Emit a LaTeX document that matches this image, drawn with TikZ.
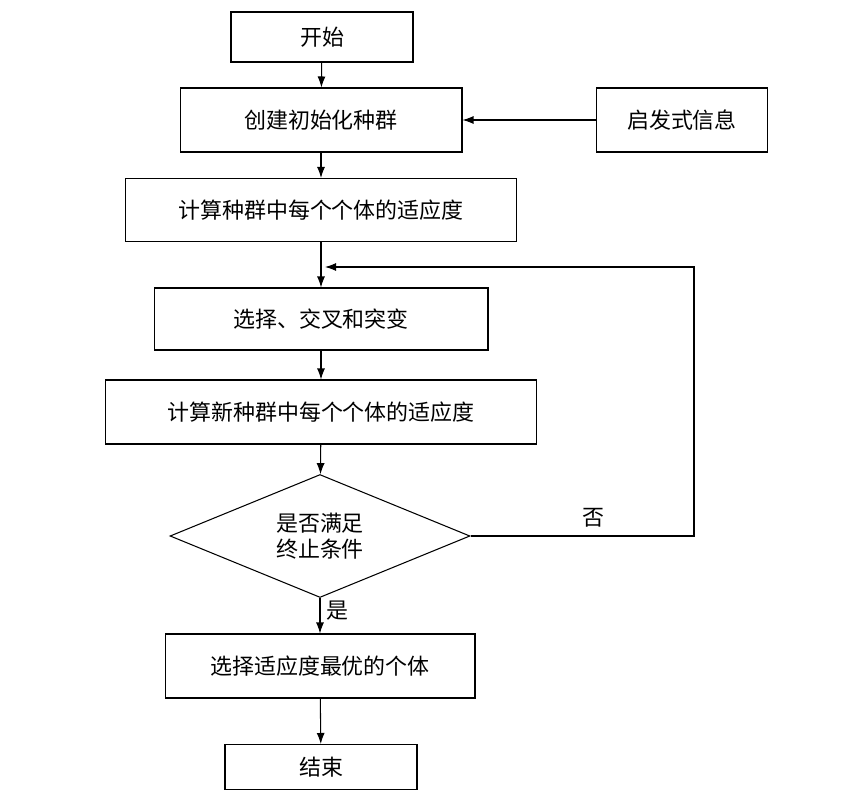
\documentclass[tikz,border=0pt]{standalone}
\usepackage{fontspec}
\setmainfont{Noto Sans CJK SC}
\usetikzlibrary{shapes.geometric,arrows.meta}
\begin{document}
\begin{tikzpicture}[x=0.02cm,y=-0.02cm]
		\tikzset{kasten/.style={rectangle, draw=black, semithick, inner sep=1, font=\fontsize{12.5}{15}\selectfont},
		raute/.style={diamond, draw=black, semithick, inner sep=0, shape aspect=2.4, align=center, font=\fontsize{12.5}{15}\selectfont},
		pfeil/.style={semithick, -{Latex[length=2.2mm,width=1.6mm]}}}
        \useasboundingbox (0,0) rectangle (854,800);
        \node[kasten, minimum width=3.64cm, minimum height=1.0cm] at (322,37) (start) {开始};
        \node[kasten, minimum width=5.64cm, minimum height=1.28cm] at (321,120) (init) {创建初始化种群};
        \node[kasten, minimum width=3.42cm, minimum height=1.28cm] at (682,120) (info) {启发式信息};
        \node[kasten, minimum width=7.82cm, minimum height=1.26cm] at (321,210) (fit1) {计算种群中每个个体的适应度};
        \node[kasten, minimum width=6.68cm, minimum height=1.24cm] at (321,319) (ops) {选择、交叉和突变};
        \node[kasten, minimum width=8.64cm, minimum height=1.28cm] at (321,412) (fit2) {计算新种群中每个个体的适应度};
        \node[raute, minimum width=6.0cm, minimum height=2.46cm] at (320,536) (test) {是否满足\\终止条件};
        \node[kasten, minimum width=6.2cm, minimum height=1.28cm] at (320,666) (best) {选择适应度最优的个体};
        \node[kasten, minimum width=3.84cm, minimum height=0.9cm] at (321,767) (ende) {结束};
        \coordinate (merge) at (321,267);
        \coordinate (rechts) at (694,536);
        \coordinate (oben) at (694,267);

			\draw [pfeil] (start) -- (init);
			\draw [pfeil] (info) -- (init);
			\draw [pfeil] (init) -- (fit1);
			\draw [semithick] (fit1) -- (merge);
			\draw [pfeil] (merge) -- (ops);
			\draw [pfeil] (ops) -- (fit2);
			\draw [pfeil] (fit2) -- (test);
			\draw [pfeil] (test) -- node[right, pos=0.35, font=\fontsize{12.5}{15}\selectfont] {是} (best);
			\draw [pfeil] (best) -- (ende);

			% Rueckfuehrung
			\draw [pfeil] (test.east) -- (rechts) -- (oben) -- ([xshift=0.08cm]merge);
			\node[font=\fontsize{12.5}{15}\selectfont] at (593,518) (nein) {否};

	\end{tikzpicture}
\end{document}
